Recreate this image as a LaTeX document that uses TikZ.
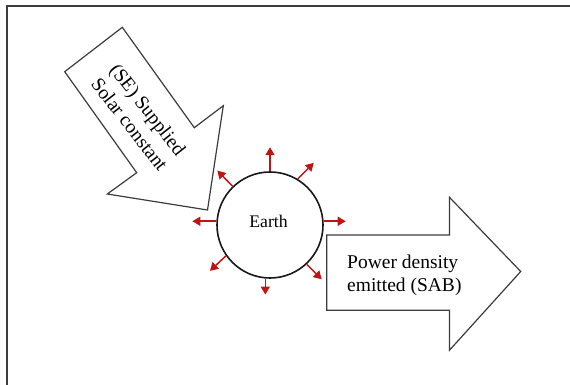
\documentclass[tikz,border=0pt]{standalone}
\usepackage{fontspec}
\setmainfont{Liberation Serif}
\usetikzlibrary{arrows.meta,calc}
\definecolor{arrred}{RGB}{192,20,20}
\definecolor{outl}{RGB}{60,60,60}
\tikzset{
  frameline/.style={draw=outl,line width=1.2pt},
  blockarrow/.style={draw=outl,fill=white,line width=1.2pt,line join=miter},
  earthc/.style={circle,draw=black!90,line width=1.6pt,minimum size=106pt,inner sep=0pt,fill=white},
  radarrow/.style={draw=arrred,line width=1.5pt,-{Triangle[width=9pt,length=8pt]}},
  bigtext/.style={font=\fontsize{19.5}{23.5}\selectfont,align=left,inner sep=0pt},
  earthtext/.style={font=\fontsize{17.7}{21}\selectfont,inner sep=0pt}
}
\begin{document}
\begin{tikzpicture}[x=1pt,y=-1pt]
\useasboundingbox (0,0) rectangle (570,385);
% frame
\draw[frameline] (570,6) -- (7,6) -- (7,385);
% SE supplied arrow
\draw[blockarrow] (64.7,71.7) -- (122.3,27.3) -- (194.3,127.7) -- (223.3,105.7)
  -- (207.5,210) -- (107.3,194) -- (136.7,172.7) -- cycle;
\node[bigtext,rotate=-52] (se) at (139,117) {(SE) Supplied\\Solar constant};
% Power density arrow
\draw[blockarrow] (326.7,235) -- (449.5,235) -- (449.5,197.3) -- (520.7,271.5)
  -- (449.5,350.2) -- (449.5,310.2) -- (326.7,310.2) -- cycle;
\node[bigtext,anchor=base west] (pd) at (347,291.7) {Power density\\emitted (SAB)};
% Earth
\node[earthc] (earth) at (270,225) {};
\node[earthtext] (et) at ($(earth.center)+(-1.5,-3.3)$) {Earth};
% radiating arrows
\draw[radarrow] (earth.90) -- ++(0,-24);
\draw[radarrow] (earth.59) -- ++(16,-16);
\draw[radarrow] (earth.4) -- ++(22,0);
\draw[radarrow] (earth.-47) -- ++(15,15);
\draw[radarrow] (earth.-95) -- ++(0,16);
\draw[radarrow] (earth.215) -- ++(-16,15);
\draw[radarrow] (earth.176) -- ++(-24,0);
\draw[radarrow] (earth.134) -- ++(-15.3,-15.7);
\end{tikzpicture}
\end{document}
